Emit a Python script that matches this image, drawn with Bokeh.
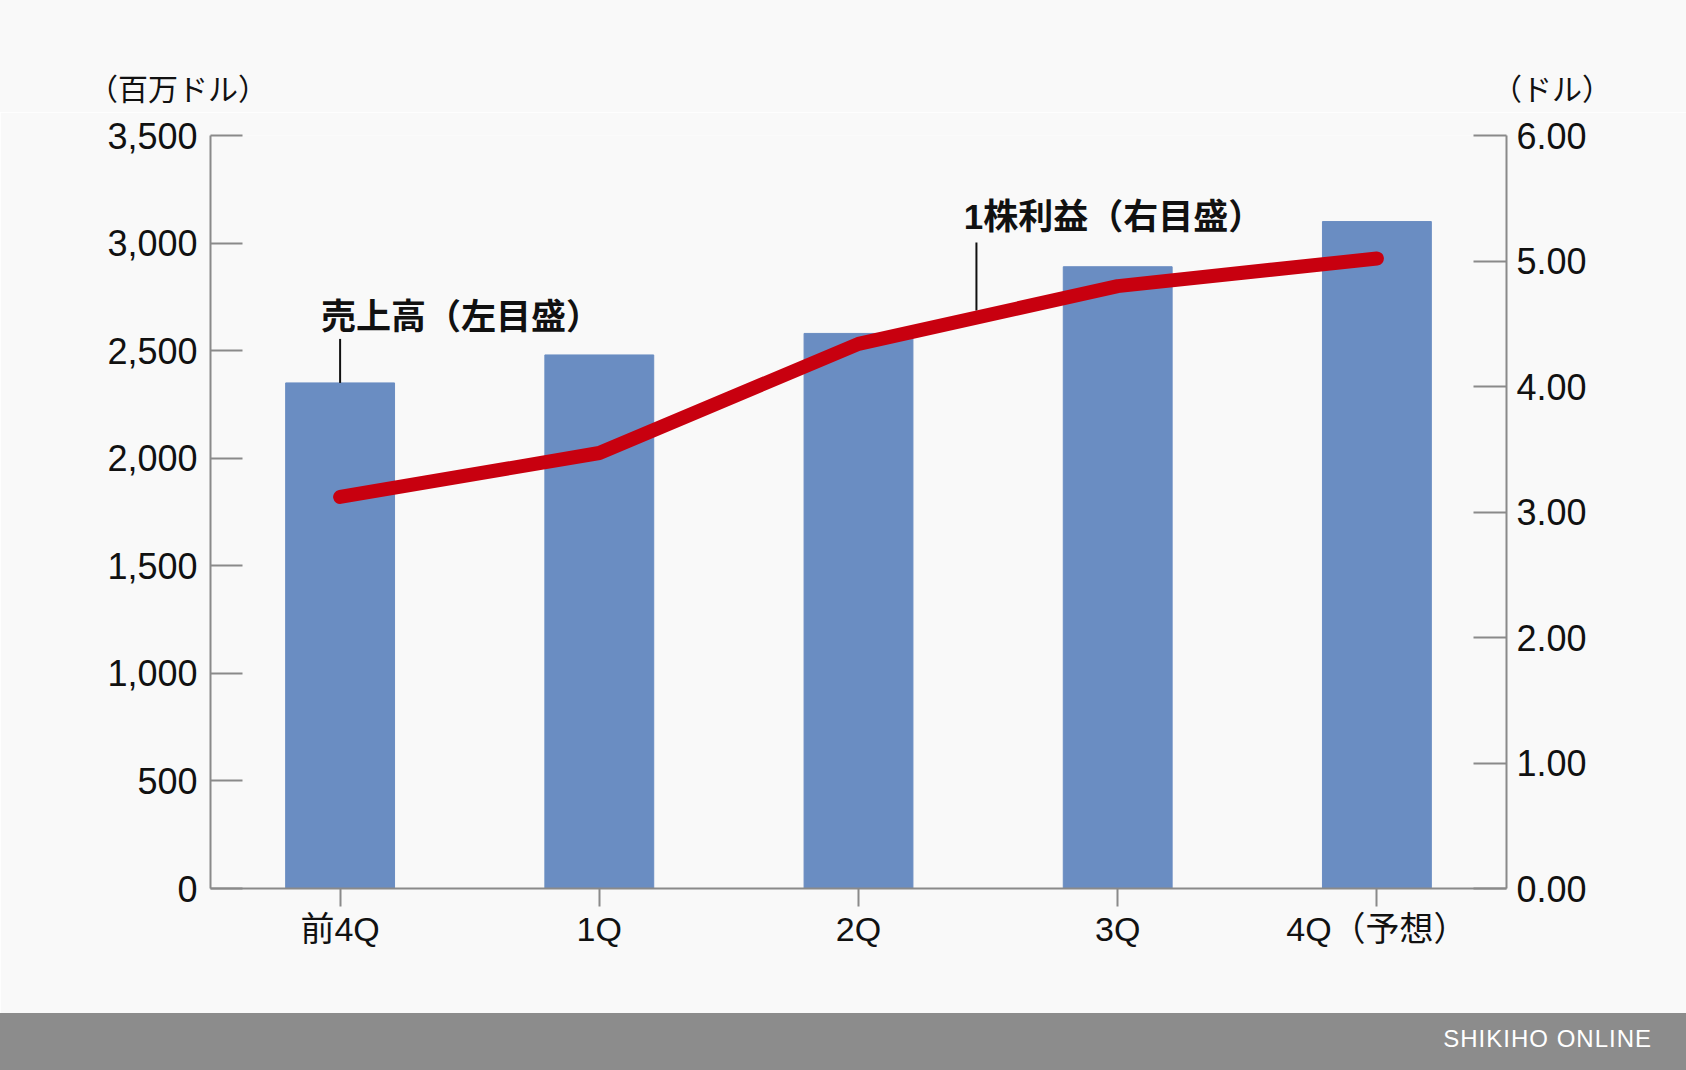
from bokeh.plotting import figure
from bokeh.models import Range1d, LinearAxis, FixedTicker, NumeralTickFormatter, Label, Div
from bokeh.layouts import column
from bokeh.embed import file_html
from bokeh.resources import INLINE

# donnees
quarters = ["前4Q", "1Q", "2Q", "3Q", "4Q（予想）"]
sales = [2350, 2480, 2580, 2890, 3100]          # 売上高, millions de dollars (axe gauche)
eps = [3.12, 3.47, 4.34, 4.80, 5.02]            # 1株利益, dollars (axe droit)
sales_ticks = [0, 500, 1000, 1500, 2000, 2500, 3000, 3500]
eps_ticks = [0, 1, 2, 3, 4, 5, 6]

BG = "#f9f9f9"
AXIS = "#8a8a8a"
INK = "#111111"
NUM_FONT = "Liberation Sans"
JP_FONT = "Noto Sans CJK JP"
MIX_FONT = "Liberation Sans, Noto Sans CJK JP"

W = 1686
HEAD_H = 112
FOOT_H = 57
MAIN_H = 1070 - HEAD_H - FOOT_H

FRAME_H = 753
SALES_PX = FRAME_H / 3500   # pixels par million
EPS_PX = FRAME_H / 6        # pixels par dollar

# bandeau du haut : unites des deux axes
head_style = ("position:absolute;top:71px;line-height:32px;font-size:30px;"
              "font-family:'Noto Sans CJK JP';color:%s;text-align:center;white-space:nowrap;" % INK)
head = Div(
    text=('<div style="position:relative;width:%dpx;height:%dpx;background:%s;">'
          '<span style="%sleft:28px;width:300px;">（百万ドル）</span>'
          '<span style="%sleft:1452px;width:200px;">（ドル）</span>'
          '</div>') % (W, HEAD_H, BG, head_style, head_style),
    width=W,
    height=HEAD_H,
    margin=(0, 0, 0, 0),
    styles={"background-color": BG},
)

# graphique principal
p = figure(
    x_range=quarters,
    y_range=Range1d(0, 3500),
    width=W,
    height=MAIN_H,
    min_border_left=210,
    min_border_right=W - 1506,
    min_border_top=135 - HEAD_H,
    min_border_bottom=MAIN_H - (888 - HEAD_H),
    toolbar_location=None,
    output_backend="svg",
    background_fill_color=BG,
    border_fill_color=BG,
    outline_line_color=None,
)
p.extra_y_ranges = {"eps": Range1d(0, 6)}
p.xgrid.visible = False
p.ygrid.visible = False

# barres : chiffre d'affaires
p.vbar(x=quarters, top=sales, width=0.42, color="#6a8dc2")

# trait de rappel pour l'etiquette 1株利益 (dessine sous la courbe)
lead_x = 2.955
lead_y0 = eps[2] + (eps[3] - eps[2]) * (lead_x - 2.5) + 7 / EPS_PX
lead_y1 = lead_y0 + 68 / EPS_PX
p.segment(x0=[lead_x], y0=[lead_y0], x1=[lead_x], y1=[lead_y1],
          y_range_name="eps", line_color=INK, line_width=2)

# courbe : benefice par action
p.line(x=quarters, y=eps, y_range_name="eps", line_width=14, color="#c8000f",
       line_cap="round", line_join="round")

# trait de rappel pour l'etiquette 売上高
p.segment(x0=[quarters[0]], y0=[sales[0]], x1=[quarters[0]], y1=[sales[0] + 44 / SALES_PX],
          line_color=INK, line_width=2)

# axe gauche
ya = p.yaxis[0]
ya.ticker = FixedTicker(ticks=sales_ticks)
ya.formatter = NumeralTickFormatter(format="0,0")
ya.major_tick_in = 32
ya.major_tick_out = 0
ya.minor_tick_line_color = None
ya.axis_line_color = AXIS
ya.axis_line_width = 2
ya.major_tick_line_color = AXIS
ya.major_tick_line_width = 2
ya.major_label_standoff = 13
ya.major_label_text_font = NUM_FONT
ya.major_label_text_font_size = "36px"
ya.major_label_text_color = INK

# axe droit
ra = LinearAxis(y_range_name="eps", ticker=FixedTicker(ticks=eps_ticks),
                formatter=NumeralTickFormatter(format="0.00"))
ra.major_tick_in = 33
ra.major_tick_out = 0
ra.minor_tick_line_color = None
ra.axis_line_color = AXIS
ra.axis_line_width = 2
ra.major_tick_line_color = AXIS
ra.major_tick_line_width = 2
ra.major_label_standoff = 10
ra.major_label_text_font = NUM_FONT
ra.major_label_text_font_size = "36px"
ra.major_label_text_color = INK
p.add_layout(ra, "right")

# axe du bas
xa = p.xaxis[0]
xa.major_tick_out = 18
xa.major_tick_in = 0
xa.axis_line_color = AXIS
xa.axis_line_width = 2
xa.major_tick_line_color = AXIS
xa.major_tick_line_width = 2
xa.major_label_standoff = 3
xa.major_label_text_font = MIX_FONT
xa.major_label_text_font_size = "34px"
xa.major_label_text_color = INK

# etiquettes des series
p.add_layout(Label(x=0.5, y=sales[0] + 44 / SALES_PX, x_offset=121, y_offset=25,
                   text="売上高（左目盛）", text_align="center", text_baseline="middle",
                   text_font=JP_FONT, text_font_size="35px", text_font_style="bold",
                   text_color=INK))
p.add_layout(Label(x=lead_x, y=lead_y1, y_range_name="eps", x_offset=137, y_offset=26,
                   text="1株利益（右目盛）", text_align="center", text_baseline="middle",
                   text_font=MIX_FONT, text_font_size="35px", text_font_style="bold",
                   text_color=INK))

# bandeau du bas
foot = Div(
    text=('<div style="width:%dpx;height:%dpx;background:#8c8c8c;color:#ffffff;'
          'font-family:\'Liberation Sans\';font-size:24px;letter-spacing:1px;'
          'text-align:right;box-sizing:border-box;padding-right:34px;line-height:51px;">'
          'SHIKIHO ONLINE</div>') % (W, FOOT_H),
    width=W,
    height=FOOT_H,
    margin=(0, 0, 0, 0),
    styles={"background-color": "#8c8c8c"},
)

layout = column(head, p, foot, spacing=0)
open("out.html", "w").write(file_html(layout, INLINE))
